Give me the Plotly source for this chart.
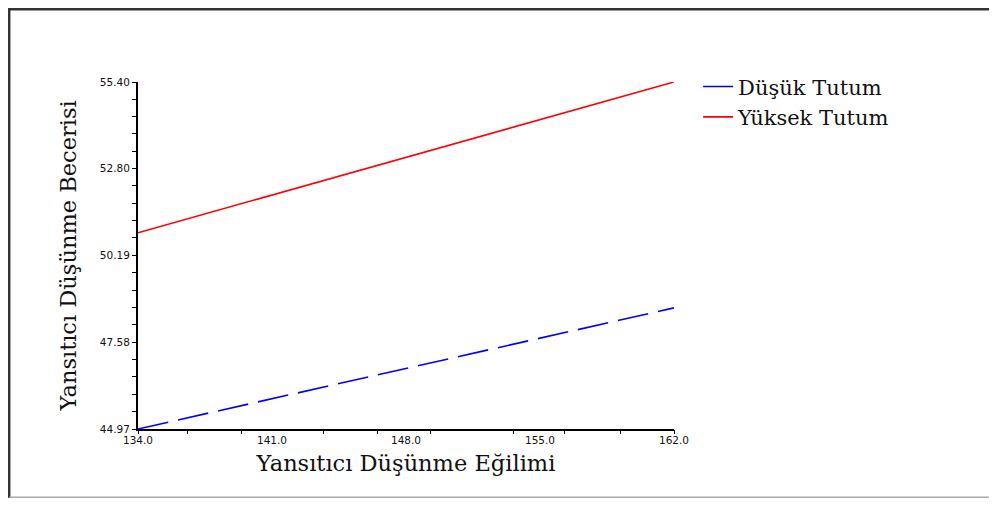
import plotly.graph_objects as go

# Data
x_vals = [134.0, 162.0]
low_att = [44.97, 48.61]     # Düşük Tutum
high_att = [50.87, 55.40]    # Yüksek Tutum
series_names = ["Düşük Tutum", "Yüksek Tutum"]

y_major = [44.97, 47.58, 50.19, 52.80, 55.40]
y_major_labels = ["44.97", "47.58", "50.19", "52.80", "55.40"]
x_major = [134.0, 141.0, 148.0, 155.0, 162.0]
x_major_labels = ["134.0", "141.0", "148.0", "155.0", "162.0"]
x_tick_marks = [134.0, 136.6, 139.4, 143.7, 146.5, 149.3, 153.6, 156.3, 159.2, 162.0]

# minor y ticks: 5 subdivisions between majors
y_minor = []
for a, b in zip(y_major[:-1], y_major[1:]):
    for k in range(1, 5):
        y_minor.append(a + (b - a) * k / 5)

# page body has an 8px margin; figure sized to fit the 997x506 window
OFF = 8
W, H = 997 - 2 * OFF, 506 - 2 * OFF
L, T = 138 - OFF, 82 - OFF
R = W - (674 - OFF)
B = H - (429 - OFF)

fig = go.Figure()
fig.add_trace(go.Scatter(x=x_vals, y=low_att, mode="lines", name=series_names[0],
                         line=dict(color="#0000ff", width=1.6, dash="31px,10px")))
fig.add_trace(go.Scatter(x=x_vals, y=high_att, mode="lines", name=series_names[1],
                         line=dict(color="#ff0000", width=1.6)))
# invisible trace on overlaid axis carrying the x tick marks
fig.add_trace(go.Scatter(x=x_vals, y=low_att, mode="lines", xaxis="x2", showlegend=False,
                         line=dict(width=0), hoverinfo="skip", opacity=0))

tickfont = dict(family="DejaVu Sans, sans-serif", size=10.5, color="#111111")
serif = "DejaVu Serif, serif"

fig.update_layout(
    width=W, height=H,
    margin=dict(l=L, r=R, t=T, b=B),
    paper_bgcolor="white", plot_bgcolor="white",
    showlegend=True,
    legend=dict(x=1.045, y=1.045, xanchor="left", yanchor="top",
                font=dict(family=serif, size=21, color="#111111"),
                bgcolor="rgba(0,0,0,0)", tracegroupgap=0, itemwidth=30),
    xaxis=dict(range=[134.0, 162.0], tickmode="array", tickvals=x_major, ticktext=x_major_labels,
               ticks="", showgrid=False, zeroline=False, showline=True, linecolor="black", linewidth=2,
               tickfont=tickfont, ticklabelstandoff=0,
               title=dict(text="Yansıtıcı Düşünme Eğilimi", font=dict(family=serif, size=22.5, color="#111111"),
                          standoff=11)),
    xaxis2=dict(range=[134.0, 162.0], overlaying="x", side="bottom", anchor="y", tickmode="array",
                tickvals=x_tick_marks, ticks="outside", ticklen=4, tickwidth=1.3, tickcolor="black",
                showticklabels=False, showgrid=False, zeroline=False, showline=False),
    yaxis=dict(range=[44.97, 55.40], tickmode="array", tickvals=y_major, ticktext=y_major_labels,
               ticks="outside", ticklen=4, tickwidth=1.3, tickcolor="black",
               minor=dict(tickmode="array", tickvals=y_minor, ticks="outside", ticklen=4,
                          tickwidth=1.3, tickcolor="black", showgrid=False),
               showgrid=False, zeroline=False, showline=True, linecolor="black", linewidth=2,
               tickfont=tickfont,
               title=dict(text="Yansıtıcı Düşünme Becerisi", font=dict(family=serif, size=22.5, color="#111111"),
                          standoff=17)),
)

# outer frame (left/top dark, bottom light gray), positioned in figure pixels
def px_x(px):
    return (px - L) / (W - L - R)

def px_y(py):
    return (H - B - py) / (H - T - B)

fig.add_shape(type="line", xref="paper", yref="paper", x0=px_x(1.2), x1=px_x(W + 5),
              y0=px_y(1.2), y1=px_y(1.2), line=dict(color="#333333", width=2.5))
fig.add_shape(type="line", xref="paper", yref="paper", x0=px_x(1.2), x1=px_x(1.2),
              y0=px_y(0), y1=px_y(H), line=dict(color="#333333", width=2.5))
fig.add_shape(type="line", xref="paper", yref="paper", x0=px_x(1.2), x1=px_x(W + 5),
              y0=px_y(H - 0.7), y1=px_y(H - 0.7), line=dict(color="#aaaaaa", width=1.5))

fig.write_html("out.html")
